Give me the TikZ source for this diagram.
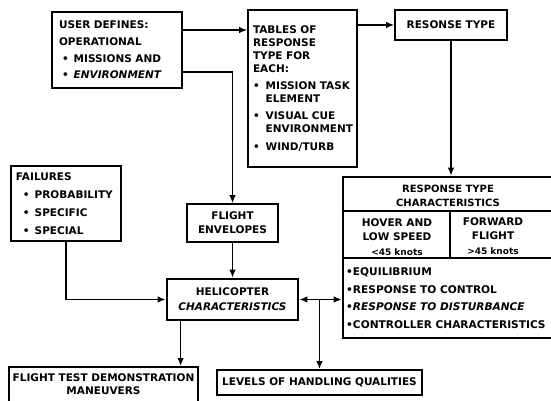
\documentclass[tikz,border=0pt]{standalone}
\usepackage{fontspec}
\setmainfont{DejaVu Sans}
\usetikzlibrary{arrows.meta}
\newcommand{\mybul}{\textbullet\hspace{6pt}}
\newcommand{\myind}{\phantom{\textbullet}\hspace{6pt}}
\newcommand{\fbul}{\hspace*{7pt}\textbullet\hspace{5pt}}
\newcommand{\ubul}{\hspace*{3pt}\textbullet\hspace{5pt}}
\begin{document}
\begin{tikzpicture}[x=1pt,y=-1pt,
  box/.style={draw, line width=1.6pt, inner ysep=0pt, font=\bfseries\fontsize{10.5}{13}\selectfont},
  heavy/.style={line width=2.6pt},
  txt/.style={inner sep=0pt},
  conn/.style={line width=1.5pt},
  arr/.style={conn, -{Latex[length=8pt,width=6.5pt]}},
  darr/.style={conn, {Latex[length=8pt,width=6.5pt]}-{Latex[length=8pt,width=6.5pt]}}
]
\useasboundingbox (0,0) rectangle (551,401);

% boxes
\node[box, heavy, minimum height=76pt, text width=116pt, inner xsep=7pt, align=left,
      font=\bfseries\fontsize{10.5}{16.7}\selectfont] (user) at (117,50)
  {USER DEFINES:\\OPERATIONAL\\\ubul MISSIONS AND\\\ubul\textit{ENVIRONMENT}};

\node[box, minimum height=157pt, text width=99pt, inner xsep=5pt, align=left,
      font=\bfseries\fontsize{10.5}{12.8}\selectfont] (tables) at (302.5,88.5)
  {TABLES OF\\RESPONSE\\TYPE FOR\\EACH:\\[5pt]\mbox{\mybul MISSION TASK}\\\mbox{\myind ELEMENT}\\[4pt]\mbox{\mybul VISUAL CUE}\\\mbox{\myind ENVIRONMENT}\\[5pt]\mbox{\mybul WIND/TURB}};

\node[box, minimum width=112pt, minimum height=30pt] (resonse) at (451,25) {RESONSE TYPE};

\node[box, minimum height=75pt, text width=100pt, inner xsep=5pt, align=left,
      font=\bfseries\fontsize{10.5}{17.8}\selectfont] (fail) at (66,203.5)
  {FAILURES\\\fbul PROBABILITY\\\fbul SPECIFIC\\\fbul SPECIAL};

\node[box, minimum width=91pt, minimum height=38pt, align=center,
      font=\bfseries\fontsize{10.5}{14}\selectfont] (env) at (232.5,223) {FLIGHT\\ENVELOPES};

\node[box, line width=2.8pt, minimum width=131pt, minimum height=41pt, align=center,
      font=\bfseries\fontsize{10.5}{15}\selectfont] (heli) at (232.5,299.5)
  {HELICOPTER\\\textit{CHARACTERISTICS}};

\node[box, heavy, minimum width=217pt, minimum height=161pt] (char) at (451.5,257.5) {};
\draw[line width=1.5pt] (char.west |- 0,211) -- (char.east |- 0,211);
\draw[line width=1.5pt] (char.west |- 0,258) -- (char.east |- 0,258);
\draw[line width=1.5pt] (450,211) -- (450,258);
\node[txt, align=center, font=\bfseries\fontsize{10}{14.5}\selectfont] (chartitle) at (448,196)
  {RESPONSE TYPE\\CHARACTERISTICS};
\node[txt, align=center, font=\bfseries\fontsize{10.5}{14.5}\selectfont] (hover) at (397,237)
  {HOVER AND\\LOW SPEED\\{\fontsize{9}{12}\selectfont <45 knots}};
\node[txt, align=center, font=\bfseries\fontsize{10.5}{14.5}\selectfont] (forward) at (493,236)
  {FORWARD\\FLIGHT\\{\fontsize{9}{12}\selectfont >45 knots}};
\node[txt, align=left, anchor=west, font=\bfseries\fontsize{10.6}{17.5}\selectfont] (charlist) at (346,298)
  {\textbullet EQUILIBRIUM\\\textbullet RESPONSE TO CONTROL\\\textbullet\textit{RESPONSE TO DISTURBANCE}\\\textbullet CONTROLLER CHARACTERISTICS};

\node[box, line width=1.8pt, minimum width=187pt, minimum height=35pt, align=center,
      font=\bfseries\fontsize{10.5}{13}\selectfont] (ftest) at (103.5,384.5)
  {FLIGHT TEST DEMONSTRATION\\MANEUVERS};

\node[box, line width=1.8pt, minimum width=205pt, minimum height=25pt] (levels) at (319.5,382.5)
  {LEVELS OF HANDLING QUALITIES};

% connectors
\draw[arr] (user.east |- 0,30) -- (tables.west |- 0,30);
\draw[arr] (user.east |- 0,72) -| (env.north);
\draw[arr] (tables.east |- resonse.west) -- (resonse.west);
\draw[arr] (resonse.south) -- (resonse.south |- char.north);
\draw[arr] (fail.south) |- (heli.west);
\draw[arr] (env.south) -- (heli.north);
\draw[darr] (heli.east) -- (heli.east -| char.west);
\draw[arr] (heli.east -| levels.north) -- (levels.north);
\coordinate (hb) at ([xshift=15pt]heli.south west);
\draw[arr] (hb) -- (hb |- ftest.north);
\end{tikzpicture}
\end{document}
